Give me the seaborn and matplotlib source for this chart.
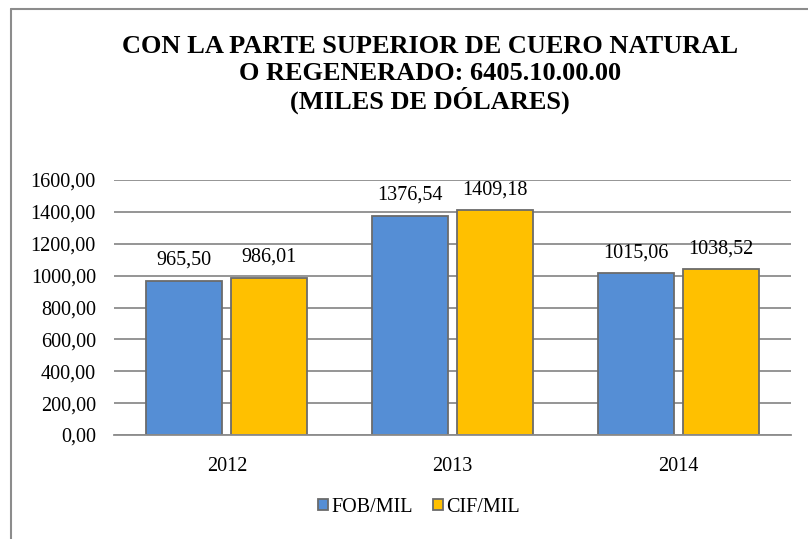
import pandas as pd
import matplotlib.pyplot as plt
import seaborn as sns
from matplotlib.lines import Line2D
from matplotlib.patches import Patch

sns.set_theme(style="white")
plt.rcParams['font.family'] = ['Liberation Serif', 'DejaVu Serif']
plt.rcParams['text.color'] = 'black'

# Data
years = ["2012", "2013", "2014"]
fob = [965.50, 1376.54, 1015.06]
cif = [986.01, 1409.18, 1038.52]
series = ["FOB/MIL", "CIF/MIL"]
colors = ["#558ED5", "#FFC000"]
yticks = [0, 200, 400, 600, 800, 1000, 1200, 1400, 1600]
title_lines = ["CON LA PARTE SUPERIOR DE CUERO NATURAL",
               "O REGENERADO: 6405.10.00.00",
               "(MILES DE DÓLARES)"]

df = pd.DataFrame({
    "year": years * 2,
    "value": fob + cif,
    "serie": [series[0]] * 3 + [series[1]] * 3,
})

fig = plt.figure(figsize=(8.08, 5.39), dpi=100)
ax = fig.add_axes([114 / 808, 1 - 435 / 539, (791 - 114) / 808, (435 - 180) / 539])

sns.barplot(data=df, x="year", y="value", hue="serie", palette=colors,
            saturation=1, width=0.753, gap=0.106, edgecolor="#6b6b6b", linewidth=1.3,
            legend=False, ax=ax)

for cont in ax.containers:
    labs = [f"{b.get_height():.2f}".replace(".", ",") for b in cont]
    ax.bar_label(cont, labels=labs, padding=8, fontsize=14.5, color="black")

ax.set_ylim(0, 1600)
ax.set_yticks(yticks)
ax.set_yticklabels([f"{v},00" for v in yticks])
ax.set_xlim(-0.5, 2.5)
ax.yaxis.grid(True, color="#8c8c8c", linewidth=1.3)
ax.set_axisbelow(True)
for s in ["top", "right", "left"]:
    ax.spines[s].set_visible(False)
ax.spines["bottom"].set_color("#8c8c8c")
ax.spines["bottom"].set_linewidth(1.3)
ax.tick_params(axis="y", length=0, pad=13, labelsize=14.5, labelcolor="black")
ax.tick_params(axis="x", length=0, pad=16, labelsize=14.5, labelcolor="black")
ax.set_xlabel("")
ax.set_ylabel("")

# title, one line at a time so the spacing stays even
for line, base in zip(title_lines, [53, 80, 109]):
    fig.text(0.532, 1 - base / 539, line, ha="center", va="baseline",
             fontsize=19, fontweight="bold", color="black")

handles = [Patch(facecolor=c, edgecolor="#6b6b6b", linewidth=1.3) for c in colors]
fig.legend(handles, series, loc="center", bbox_to_anchor=(419 / 808, 1 - 507 / 539),
           ncol=2, frameon=False, fontsize=14.5, handlelength=0.5, handleheight=0.5,
           handletextpad=0.15, columnspacing=1.0, labelcolor="black")

# chart frame (cut off on the right and bottom)
fig.add_artist(Line2D([11 / 808, 1], [1 - 9 / 539, 1 - 9 / 539], color="#8c8c8c", linewidth=1.5))
fig.add_artist(Line2D([11 / 808, 11 / 808], [0, 1 - 9 / 539], color="#8c8c8c", linewidth=1.5))

fig.savefig("out.png", dpi=100)
